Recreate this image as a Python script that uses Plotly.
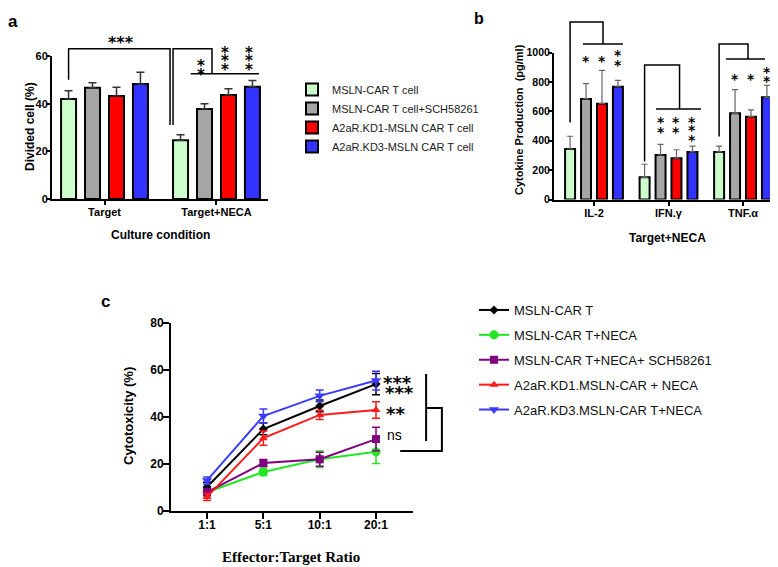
import plotly.graph_objects as go

# page body has an 8px margin: the figure is drawn 8px in from the window corner
OFF = 8
W, H = 778 - OFF, 567 - OFF

# ---------------- Panel a data ----------------
a_groups = ["Target", "Target+NECA"]
a_names = ["MSLN-CAR T cell", "MSLN-CAR T cell+SCH58261",
           "A2aR.KD1-MSLN CAR T cell", "A2aR.KD3-MSLN CAR T cell"]
a_ctrl = [42.0, 24.6]
a_ctrl_err = [3.4, 2.4]
a_sch = [46.7, 37.8]
a_sch_err = [2.1, 2.2]
a_kd1 = [43.2, 43.6]
a_kd1_err = [3.7, 2.7]
a_kd3 = [48.3, 47.1]
a_kd3_err = [4.9, 2.6]

# ---------------- Panel b data ----------------
b_cyto = ["IL-2", "IFN.\u03b3", "TNF.\u03b1"]
b_ctrl = [344, 151, 324]
b_ctrl_err = [87, 89, 40]
b_sch = [685, 303, 587]
b_sch_err = [104, 73, 161]
b_kd1 = [653, 281, 564]
b_kd1_err = [227, 58, 46]
b_kd3 = [768, 324, 696]
b_kd3_err = [44, 40, 82]

# ---------------- Panel c data ----------------
c_ratios = ["1:1", "5:1", "10:1", "20:1"]
c_names = ["MSLN-CAR T", "MSLN-CAR T+NECA", "MSLN-CAR T+NECA+ SCH58261",
           "A2aR.KD1.MSLN-CAR + NECA", "A2aR.KD3.MSLN-CAR T+NECA"]
c_car = [10.2, 34.9, 44.7, 54.0]
c_car_err = [2.0, 2.5, 2.5, 4.5]
c_neca = [8.0, 16.6, 22.0, 25.2]
c_neca_err = [1.5, 1.5, 3.5, 5.0]
c_sch = [8.0, 20.4, 22.0, 30.6]
c_sch_err = [1.5, 1.5, 3.0, 5.0]
c_kd1 = [6.0, 31.0, 40.9, 43.0]
c_kd1_err = [1.5, 3.0, 2.0, 3.5]
c_kd3 = [13.0, 40.4, 49.0, 55.5]
c_kd3_err = [1.5, 3.0, 2.5, 4.0]

BAR_COLORS = ["#ccffcc", "#a6a6a6", "#ff0000", "#3333ff"]
OFFS = [-0.321, -0.107, 0.107, 0.321]
BW = 0.134
LINE_COLORS = ["#000000", "#22e622", "#800080", "#ff1a1a", "#3b3bff"]
SYMBOLS = ["diamond", "circle", "square", "triangle-up", "triangle-down"]
SIZES = [7, 9, 8, 8, 9]

# axis geometry (window pixels)
A_X = (52, 268); A_XR = [-0.469, 1.46]; A_Y = (199, 56); A_YR = [0, 60]
B_X = (554, 777); B_XR = [-0.537, 2.456]; B_Y = (199.5, 52.7); B_YR = [0, 1000]
C_X = (171, 413); C_XR = [-0.64, 3.657]; C_Y = (511, 323); C_YR = [0, 80]


def PX(px):
    return (px - OFF) / W


def PY(py):
    return 1 - (py - OFF) / H


def make_map(xpx, xr, ypx, yr):
    def f(x, y):
        px = xpx[0] + (x - xr[0]) / (xr[1] - xr[0]) * (xpx[1] - xpx[0])
        py = ypx[0] - (y - yr[0]) / (yr[1] - yr[0]) * (ypx[0] - ypx[1])
        return PX(px), PY(py)
    return f


mapA = make_map(A_X, A_XR, A_Y, A_YR)
mapB = make_map(B_X, B_XR, B_Y, B_YR)
mapC = make_map(C_X, C_XR, C_Y, C_YR)

fig = go.Figure()

# Panel a bars
for i, (name, vals, errs, col) in enumerate(zip(a_names, [a_ctrl, a_sch, a_kd1, a_kd3],
                                                [a_ctrl_err, a_sch_err, a_kd1_err, a_kd3_err],
                                                BAR_COLORS)):
    fig.add_trace(go.Bar(
        x=[g + OFFS[i] for g in range(len(a_groups))], y=vals, width=BW,
        marker=dict(color=col, line=dict(color="black", width=2)),
        error_y=dict(type="data", array=errs, arrayminus=[0] * len(errs), symmetric=False,
                     color="#333333", thickness=1.5, width=4),
        name=name, xaxis="x", yaxis="y", legend="legend", legendgroup=name))

# Panel b bars
for i, (vals, errs, col) in enumerate(zip([b_ctrl, b_sch, b_kd1, b_kd3],
                                          [b_ctrl_err, b_sch_err, b_kd1_err, b_kd3_err],
                                          BAR_COLORS)):
    fig.add_trace(go.Bar(
        x=[g + OFFS[i] for g in range(len(b_cyto))], y=vals, width=BW,
        marker=dict(color=col, line=dict(color="black", width=2)),
        error_y=dict(type="data", array=errs, arrayminus=[0] * len(errs), symmetric=False,
                     color="#666666", thickness=1.2, width=3),
        showlegend=False, xaxis="x2", yaxis="y2"))

# Panel c lines
for i, (name, vals, errs) in enumerate(zip(c_names, [c_car, c_neca, c_sch, c_kd1, c_kd3],
                                           [c_car_err, c_neca_err, c_sch_err, c_kd1_err, c_kd3_err])):
    fig.add_trace(go.Scatter(
        x=c_ratios, y=vals, mode="lines+markers", name=name,
        line=dict(color=LINE_COLORS[i], width=2),
        marker=dict(symbol=SYMBOLS[i], size=SIZES[i], color=LINE_COLORS[i]),
        error_y=dict(type="data", array=errs, color=LINE_COLORS[i], thickness=1.5, width=4),
        xaxis="x3", yaxis="y3", legend="legend2", legendgroup=name))

# ---------- annotations / brackets ----------
shapes = []
annos = []


def path_shape(mapf, pts, width=1.5):
    coords = [mapf(x, y) for x, y in pts]
    p = "M " + " L ".join(f"{x:.5f},{y:.5f}" for x, y in coords)
    return dict(type="path", path=p, xref="paper", yref="paper",
                line=dict(color="black", width=width))


def txt(mapf, x, y, s, size, family="DejaVu Sans", weight="bold", yshift=None):
    px, py = mapf(x, y)
    if yshift is None:
        yshift = -0.25 * size if "*" in s else 0
    annos.append(dict(x=px, y=py, xref="paper", yref="paper", text=s, showarrow=False,
                      xanchor="center", yanchor="middle", yshift=yshift,
                      font=dict(size=size, family=family, color="black", weight=weight)))


# panel a
shapes.append(path_shape(mapA, [(OFFS[0], 50), (OFFS[0], 63), (0.585, 63), (0.585, 31)]))
shapes.append(path_shape(mapA, [(0.612, 31), (0.612, 63), (0.96, 63), (0.96, 52.5)]))
shapes.append(path_shape(mapA, [(0.77, 52.5), (1.38, 52.5)]))
txt(mapA, 0.147, 67.5, "***", 16)
for yv in [57.5, 53.7]:
    txt(mapA, 1 + OFFS[1] - 0.03, yv, "*", 15)
for xo in [OFFS[2], OFFS[3]]:
    for yv in [63.0, 59.5, 55.9]:
        txt(mapA, 1 + xo - 0.03, yv, "*", 15)

# panel b
shapes.append(path_shape(mapB, [(OFFS[0], 524), (OFFS[0], 1209), (0.121, 1209), (0.121, 1059)]))
shapes.append(path_shape(mapB, [(-0.148, 1059), (0.389, 1059)]))
shapes.append(path_shape(mapB, [(1 + OFFS[0], 258), (1 + OFFS[0], 916), (1.148, 916), (1.148, 616)]))
shapes.append(path_shape(mapB, [(0.832, 616), (1.436, 616)]))
shapes.append(path_shape(mapB, [(2 + OFFS[0], 429), (2 + OFFS[0], 1059), (2.067, 1059), (2.067, 957)]))
shapes.append(path_shape(mapB, [(1.772, 957), (2.295, 957)]))
b_star_cols = [
    [(OFFS[1], [964]), (OFFS[2], [964]), (OFFS[3], [1005, 937])],
    [(OFFS[1], [555, 487]), (OFFS[2], [555, 487]), (OFFS[3], [555, 494, 426])],
    [(OFFS[1], [848]), (OFFS[2], [848]), (OFFS[3], [889, 828])],
]
for g, cols in enumerate(b_star_cols):
    for xo, ys in cols:
        for yv in ys:
            txt(mapB, g + xo, yv, "*", 14)

# panel c
shapes.append(path_shape(mapC, [(3.89, 58.3), (3.89, 29.8)], 2))
shapes.append(path_shape(mapC, [(3.89, 43.8), (4.17, 43.8), (4.17, 25.5), (3.43, 25.5)], 2))
txt(mapC, 3.39, 56.6, "***", 18)
txt(mapC, 3.41, 52.3, "***", 18)
txt(mapC, 3.34, 43.4, "**", 18)
txt(mapC, 3.33, 32.3, "ns", 14, family="Liberation Sans", weight="normal")


def ptxt(px, py, s, size, family="Liberation Sans", weight="bold", angle=0, yanchor="middle"):
    annos.append(dict(x=PX(px), y=PY(py), xref="paper", yref="paper", text=s,
                      showarrow=False, xanchor="center", yanchor=yanchor, textangle=angle,
                      font=dict(size=size, family=family, color="black", weight=weight)))


ptxt(13, 21, "a", 17)
ptxt(479, 8, "b", 16, yanchor="top")
ptxt(106, 301, "c", 17)
ptxt(30, 127, "Divided cell (%)", 12, angle=-90)
ptxt(160, 235, "Culture condition", 12)
ptxt(519, 120, "Cytokine Production  (pg/ml)", 11, angle=-90)
ptxt(667, 238, "Target+NECA", 12)
ptxt(128, 416, "Cytotoxicity (%)", 13, angle=-90)
ptxt(291, 557, "Effector:Target Ratio", 15, family="Liberation Serif")

axis_common = dict(showline=True, linecolor="black", linewidth=2, ticks="outside",
                   ticklen=4, tickwidth=2, tickcolor="black", showgrid=False,
                   zeroline=False, fixedrange=True, automargin=False)
tf = dict(family="Liberation Sans", size=11, color="black", weight="bold")

fig.update_layout(
    width=W, height=H, autosize=False,
    margin=dict(l=0, r=0, t=0, b=0, autoexpand=False),
    paper_bgcolor="white", plot_bgcolor="white",
    barmode="overlay",
    xaxis=dict(domain=[PX(A_X[0]), PX(A_X[1])], range=A_XR, anchor="y",
               tickvals=list(range(len(a_groups))), ticktext=a_groups, tickfont=tf,
               ticklabelstandoff=-2, **axis_common),
    yaxis=dict(domain=[PY(A_Y[0]), PY(A_Y[1])], range=A_YR, anchor="x",
               tickvals=[0, 20, 40, 60], tickfont=tf, ticklabelstandoff=-4, **axis_common),
    xaxis2=dict(domain=[PX(B_X[0]), PX(B_X[1])], range=B_XR, anchor="y2",
                tickvals=list(range(len(b_cyto))), ticktext=b_cyto, tickfont=tf,
                ticklabelstandoff=-2, **axis_common),
    yaxis2=dict(domain=[PY(B_Y[0]), PY(B_Y[1])], range=B_YR, anchor="x2",
                tickvals=[0, 200, 400, 600, 800, 1000], tickfont=dict(tf, size=10.5),
                ticklabelstandoff=-4, **axis_common),
    xaxis3=dict(domain=[PX(C_X[0]), PX(C_X[1])], range=C_XR, anchor="y3", type="category",
                tickfont=dict(tf, size=12), ticklabelstandoff=-4, **dict(axis_common, ticklen=6)),
    yaxis3=dict(domain=[PY(C_Y[0]), PY(C_Y[1])], range=C_YR, anchor="x3",
                tickvals=[0, 20, 40, 60, 80], tickfont=dict(tf, size=12),
                ticklabelstandoff=-3, **dict(axis_common, ticklen=6)),
    legend=dict(x=PX(292), y=PY(75), xanchor="left", yanchor="top",
                font=dict(family="Liberation Sans", size=11, color="#222222"),
                bgcolor="rgba(0,0,0,0)", tracegroupgap=0),
    legend2=dict(x=PX(474), y=PY(295), xanchor="left", yanchor="top",
                 font=dict(family="Liberation Sans", size=13, color="#111111"),
                 bgcolor="rgba(0,0,0,0)", tracegroupgap=5),
    shapes=shapes,
    annotations=annos,
)

fig.write_html("out.html")
